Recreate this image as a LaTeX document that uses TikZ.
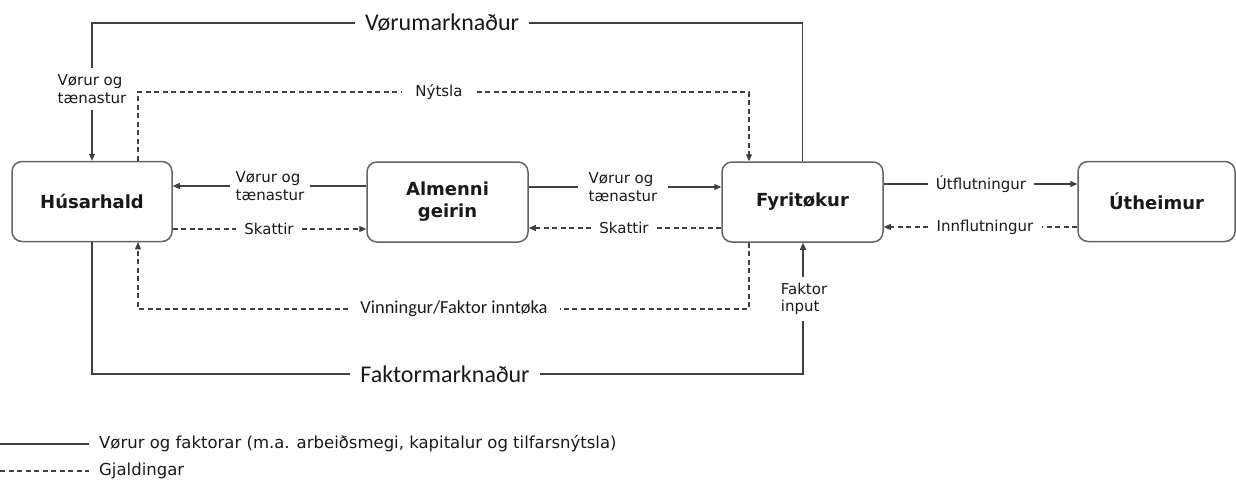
\documentclass[tikz,border=0pt]{standalone}
\usepackage{fontspec}
\setmainfont{DejaVu Sans}
\newfontfamily\calib{Carlito}
\usetikzlibrary{arrows.meta}
\definecolor{ln}{RGB}{64,64,64}
\definecolor{bx}{RGB}{100,100,100}
\definecolor{tx}{RGB}{25,25,25}
\begin{document}
\begin{tikzpicture}[x=1pt,y=-1pt,
 box/.style={draw=bx, line width=1.5pt, rounded corners=10pt, minimum width=161pt, minimum height=80pt, inner sep=0pt, align=center, font=\bfseries\fontsize{18}{22}\selectfont, text=tx},
 lbl/.style={inner xsep=8pt, inner ysep=3pt, align=left, font=\fontsize{15}{17.5}\selectfont, text=tx},
 big/.style={inner xsep=10pt, inner ysep=2pt, font=\calib\fontsize{24}{28}\selectfont, text=tx},
 leg/.style={anchor=west, inner xsep=10pt, inner ysep=2pt, font=\fontsize{16.5}{19}\selectfont, text=tx},
 flow/.style={draw=ln, line width=1.1pt},
 pay/.style={draw=ln, line width=1.1pt, dash pattern=on 5pt off 3.5pt},
 arrowed/.style={-{Triangle[length=7pt,width=6pt]}},
]
\useasboundingbox (0,0) rectangle (1236,479);

% boxes
\node[box, minimum width=160pt] (H) at (92,201.5) {Húsarhald};
\node[box] (A) at (447.5,202) {Almenni\\geirin};
\node[box] (F) at (802.5,202) {Fyritøkur};
\node[box, minimum width=157pt] (U) at (1156.5,201.5) {Útheimur};

% labels
\node[big] (vm) at (442,23) {Vørumarknaður};
\node[big] (fm) at (445,374) {Faktormarknaður};
\node[lbl, inner ysep=6pt] (vt1) at (92,89) {Vørur og\\tænastur};
\node[lbl, inner xsep=14pt] (ny) at (439,92) {Nýtsla};
\node[lbl, inner xsep=5pt] (vt2) at (270,186) {Vørur og\\tænastur};
\node[lbl] (sk1) at (269,229) {Skattir};
\node[lbl, inner xsep=10pt] (vt3) at (623,187) {Vørur og\\tænastur};
\node[lbl] (sk2) at (624,228) {Skattir};
\node[lbl] (ut) at (981,184) {Útflutningur};
\node[lbl] (inn) at (985,227) {Innflutningur};
\node[lbl, inner xsep=12pt, font=\calib\fontsize{18.4}{22}\selectfont] (vin) at (454,309) {Vinningur/Faktor inntøka};
\node[lbl, inner ysep=6pt] (fi) at (804,299) {Faktor\\input};

% top market loop
\draw[flow] (F.north) |- (vm);
\draw[flow] (vm) -| (vt1);
\draw[flow, arrowed] (vt1) -- (H);

% Nytsla
\coordinate (n1) at (138,92);
\coordinate (n2) at (749,92);
\draw[pay] (n1 |- H.north) -- (n1) -- (ny);
\draw[pay, arrowed] (ny) -- (n2) -- (n2 |- F.north);

% middle rows
\draw[flow] (A.west |- vt2) -- (vt2);
\draw[flow, arrowed] (vt2) -- (H.east |- vt2);
\draw[pay] (H.east |- sk1) -- (sk1);
\draw[pay, arrowed] (sk1) -- (A.west |- sk1);
\draw[flow] (A.east |- vt3) -- (vt3);
\draw[flow, arrowed] (vt3) -- (F.west |- vt3);
\draw[pay] (F.west |- sk2) -- (sk2);
\draw[pay, arrowed] (sk2) -- (A.east |- sk2);
\draw[flow] (F.east |- ut) -- (ut);
\draw[flow, arrowed] (ut) -- (U.west |- ut);
\draw[pay] (U.west |- inn) -- (inn);
\draw[pay, arrowed] (inn) -- (F.east |- inn);

% bottom
\coordinate (v1) at (749,309);
\coordinate (v2) at (138,309);
\coordinate (fk) at (803,374);
\draw[pay] (v1 |- F.south) -- (v1) -- (vin);
\draw[pay, arrowed] (vin) -- (v2) -- (v2 |- H.south);
\draw[flow] (H.south) |- (fm);
\draw[flow] (fm) -- (fk) -- (fk |- fi.south);
\draw[flow, arrowed] (fk |- fi.north) -- (fk |- F.south);

% legend
\node[leg] (lg1) at (89,444) {Vørur og faktorar (m.a. arbeiðsmegi, kapitalur og tilfarsnýtsla)};
\node[leg] (lg2) at (89,471) {Gjaldingar};
\coordinate (l1) at (0,444);
\coordinate (l2) at (0,471);
\draw[flow] (l1) -- (lg1);
\draw[pay] (l2) -- (lg2);
\end{tikzpicture}
\end{document}
